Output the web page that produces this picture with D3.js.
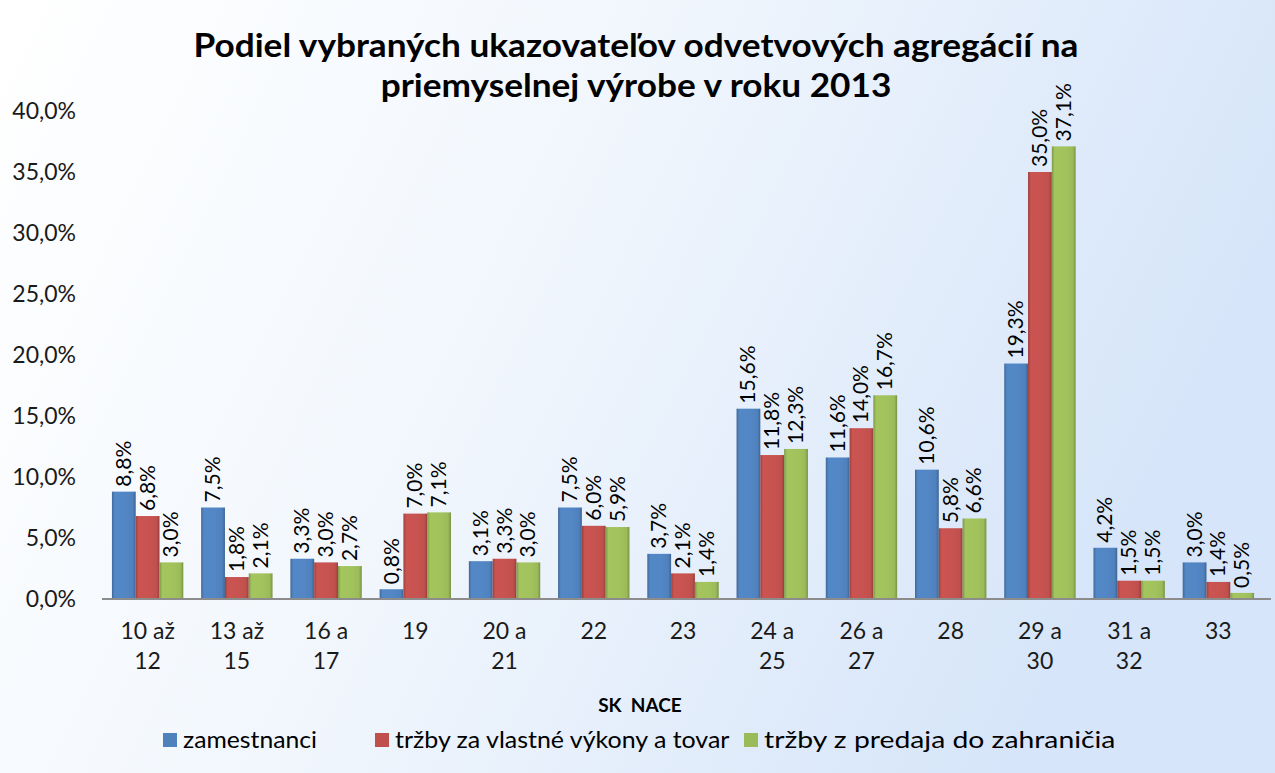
<!DOCTYPE html>
<html><head><meta charset="utf-8">
<script src="https://cdn.jsdelivr.net/npm/d3@7"></script>
<style>body{margin:0;} svg{display:block;font-family:Lato, "Open Sans", sans-serif;}</style>
</head><body>
<svg id="c" width="1275" height="773"></svg>
<script>
const categories = [["10 až","12"],["13 až","15"],["16 a","17"],["19"],["20 a","21"],["22"],["23"],["24 a","25"],["26 a","27"],["28"],["29 a","30"],["31 a","32"],["33"]];
const seriesNames = ["zamestnanci","tržby za vlastné výkony a tovar","tržby z predaja do zahraničia"];
const zamestnanci = [8.8,7.5,3.3,0.8,3.1,7.5,3.7,15.6,11.6,10.6,19.3,4.2,3.0];
const trzby = [6.8,1.8,3.0,7.0,3.3,6.0,2.1,11.8,14.0,5.8,35.0,1.5,1.4];
const zahranicie = [3.0,2.1,2.7,7.1,3.0,5.9,1.4,12.3,16.7,6.6,37.1,1.5,0.5];
const yTicks = [0,5,10,15,20,25,30,35,40];
const colors = ["#4f81bd","#c0504d","#9bbb59"];
const series = [zamestnanci, trzby, zahranicie];

const svg = d3.select("#c");
const defs = svg.append("defs");
const bg = defs.append("linearGradient").attr("id","bg").attr("x1","0").attr("y1","0").attr("x2","1").attr("y2","0.3");
bg.append("stop").attr("offset","0").attr("stop-color","#ffffff");
bg.append("stop").attr("offset","0.45").attr("stop-color","#f2f7fd");
bg.append("stop").attr("offset","1").attr("stop-color","#d6e5f9");
svg.append("rect").attr("width",1275).attr("height",773).attr("fill","url(#bg)");

colors.forEach((c,i)=>{
  const g = defs.append("linearGradient").attr("id","g"+i).attr("x1","0").attr("x2","1").attr("y1","0").attr("y2","0");
  const base = d3.color(c);
  g.append("stop").attr("offset","0").attr("stop-color",base.darker(0.6));
  g.append("stop").attr("offset","0.12").attr("stop-color",base.brighter(0.15));
  g.append("stop").attr("offset","0.6").attr("stop-color",base.brighter(0.1));
  g.append("stop").attr("offset","0.88").attr("stop-color",base);
  g.append("stop").attr("offset","1").attr("stop-color",base.darker(0.7));
});

const mLeft = 103, mRight = 1263, mTop = 111, mBottom = 599;
const x0 = d3.scaleBand().domain(d3.range(categories.length)).range([mLeft,mRight]).paddingInner(0.2).paddingOuter(0.1);
const x1 = d3.scaleBand().domain([0,1,2]).range([0,x0.bandwidth()]);
const y = d3.scaleLinear().domain([0,40]).range([mBottom,mTop]);

// title
const title = svg.append("text").attr("text-anchor","middle").attr("font-weight","bold").attr("font-size",32).attr("fill","#000")
  .attr("transform","translate(636,0) scale(1.1,1)");
title.append("tspan").attr("x",0).attr("y",57).text("Podiel vybraných ukazovateľov odvetvových agregácií na");
title.append("tspan").attr("x",0).attr("y",97).text("priemyselnej výrobe v roku 2013");

// y axis
const yAxis = d3.axisLeft(y).tickValues(yTicks).tickSize(0).tickPadding(0)
  .tickFormat(d => d3.format(".1f")(d).replace(".",",")+"%");
const ya = svg.append("g").attr("transform","translate(76,0)").call(yAxis);
ya.select(".domain").remove();
ya.selectAll("text").attr("font-size",23).attr("fill","#1a1a1a").attr("font-family","Lato, sans-serif");

// bars
series.forEach((vals,si)=>{
  const g = svg.append("g");
  g.selectAll("rect").data(vals).join("rect")
    .attr("x",(d,i)=>x0(i)+x1(si))
    .attr("y",d=>y(d))
    .attr("width",x1.bandwidth())
    .attr("height",d=>mBottom-y(d))
    .attr("fill","url(#g"+si+")");
  g.selectAll("text").data(vals).join("text")
    .attr("transform",(d,i)=>`translate(${x0(i)+x1(si)+x1.bandwidth()/2+7},${y(d)-5}) rotate(-90)`)
    .attr("font-size",21).attr("fill","#000")
    .text(d=>d3.format(".1f")(d).replace(".",",")+"%");
});

// x axis
const xAxis = d3.axisBottom(x0).tickSize(0).tickFormat("");
const xa = svg.append("g").attr("transform",`translate(0,${mBottom})`).call(xAxis);
xa.select(".domain").attr("stroke","#8c8c8c").attr("stroke-width",2).attr("d",`M${mLeft-1},0H1271`);
categories.forEach((lines,i)=>{
  const t = svg.append("text").attr("text-anchor","middle").attr("font-size",23).attr("fill","#1a1a1a");
  lines.forEach((l,k)=>t.append("tspan").attr("x",x0(i)+x0.bandwidth()/2).attr("y",639+k*30).text(l));
});

svg.append("text").attr("x",640).attr("y",712).attr("text-anchor","middle").attr("font-weight","bold").attr("font-size",19).attr("xml:space","preserve").text("SK  NACE");

// legend
const legX = [163,375,744];
const legScale = [1.03,1.04,1.18];
seriesNames.forEach((n,i)=>{
  svg.append("rect").attr("x",legX[i]).attr("y",733).attr("width",14).attr("height",14).attr("fill",colors[i]);
  svg.append("text").attr("transform",`translate(${legX[i]+20},748) scale(${legScale[i]},1)`).attr("font-size",24).attr("fill","#000").text(n);
});
</script>
</body></html>
